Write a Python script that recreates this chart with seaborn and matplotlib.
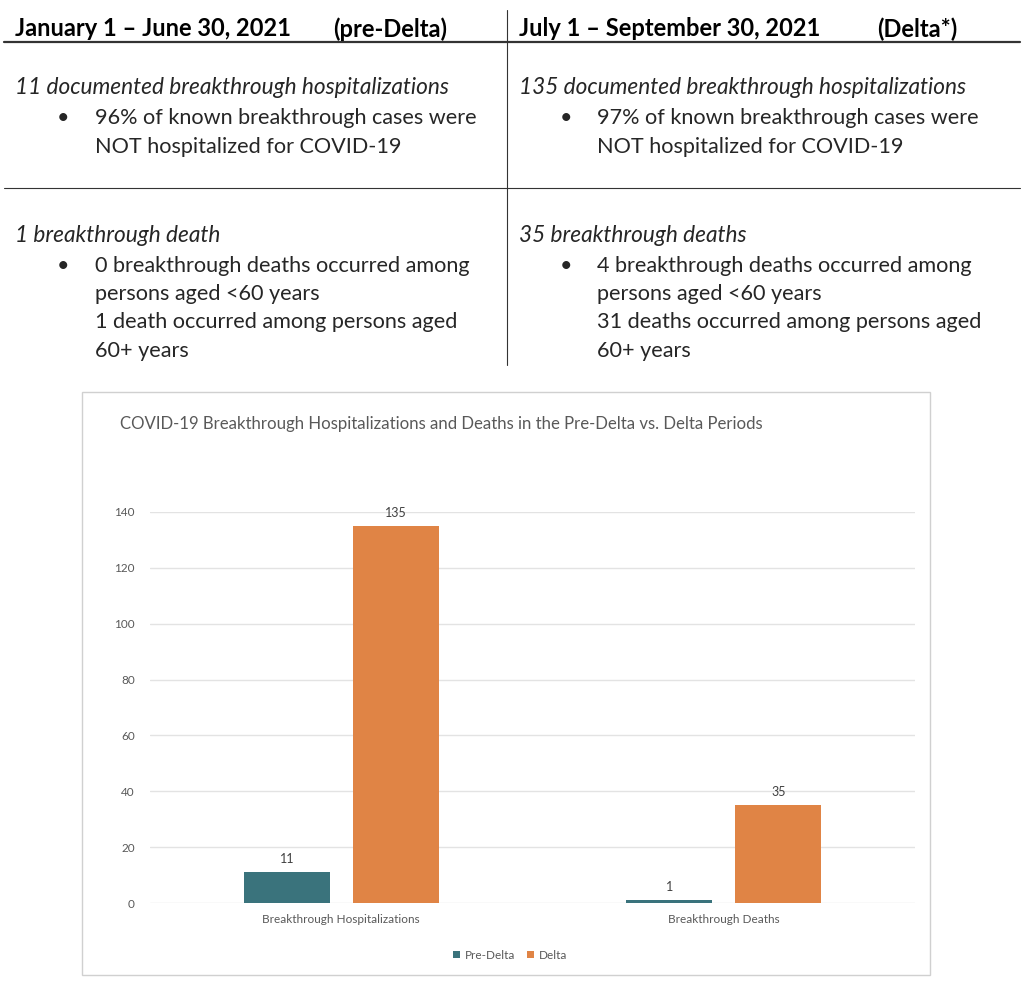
import matplotlib
matplotlib.use("Agg")
import matplotlib.pyplot as plt
import seaborn as sns
import pandas as pd
from matplotlib.lines import Line2D
from matplotlib.patches import Rectangle

sns.set_style("white")
plt.rcParams['font.family'] = ['Lato', 'DejaVu Sans']

# ---- data ----
categories = ["Breakthrough Hospitalizations", "Breakthrough Deaths"]
periods = ["Pre-Delta", "Delta"]
pre_delta_values = [11, 1]
delta_values = [135, 35]
y_ticks = [0, 20, 40, 60, 80, 100, 120, 140]

header_left = ["January 1 \u2013 June 30, 2021", "(pre-Delta)"]
header_right = ["July 1 \u2013 September 30, 2021", "(Delta*)"]
row1_left = ["11 documented breakthrough hospitalizations",
             "96% of known breakthrough cases were",
             "NOT hospitalized for COVID-19"]
row1_right = ["135 documented breakthrough hospitalizations",
              "97% of known breakthrough cases were",
              "NOT hospitalized for COVID-19"]
row2_left = ["1 breakthrough death",
             "0 breakthrough deaths occurred among",
             "persons aged <60 years",
             "1 death occurred among persons aged",
             "60+ years"]
row2_right = ["35 breakthrough deaths",
              "4 breakthrough deaths occurred among",
              "persons aged <60 years",
              "31 deaths occurred among persons aged",
              "60+ years"]
chart_title = "COVID-19 Breakthrough Hospitalizations and Deaths in the Pre-Delta vs. Delta Periods"

colors = {"Pre-Delta": "#3a737c", "Delta": "#e08445"}

W, H = 1024, 988
fig = plt.figure(figsize=(W / 100, H / 100), dpi=100)
fig.patch.set_facecolor("white")


def fx(x):
    return x / W


def fy(y):
    return 1 - y / H


# ---- table ----
fig.add_artist(Line2D([fx(4), fx(1020)], [fy(42), fy(42)], color="#333333", lw=1.6))
fig.add_artist(Line2D([fx(4), fx(1020)], [fy(188), fy(188)], color="#333333", lw=0.8))
fig.add_artist(Line2D([fx(507), fx(507)], [fy(10), fy(365)], color="#333333", lw=0.8))

hdr_kw = dict(fontsize=17, fontweight="bold", color="black", va="center")
fig.text(fx(15), fy(29), header_left[0], **hdr_kw)
fig.text(fx(333), fy(29), header_left[1], **hdr_kw)
fig.text(fx(519), fy(29), header_right[0], **hdr_kw)
fig.text(fx(877), fy(29), header_right[1], **hdr_kw)

body_fs = 15.6
ital_fs = 16.3


def block(x0, xb, xt, lines, ys):
    fig.text(fx(x0), fy(ys[0]), lines[0], fontsize=ital_fs, style="italic", va="center")
    fig.text(fx(xb), fy(ys[1]), "\u2022", fontsize=body_fs, va="center")
    for s, y in zip(lines[1:], ys[1:]):
        fig.text(fx(xt), fy(y), s, fontsize=body_fs, va="center")


block(15, 57, 95, row1_left, [87, 118, 147])
block(519, 560, 597, row1_right, [87, 118, 147])
block(15, 57, 95, row2_left, [235, 266, 294, 322, 351])
block(519, 560, 597, row2_right, [235, 266, 294, 322, 351])

# ---- chart frame ----
fig.add_artist(Rectangle((fx(82), fy(975)), fx(930) - fx(82), fy(392) - fy(975),
                         transform=fig.transFigure, fill=False, edgecolor="#d0d0d0", lw=1.0))
fig.text(fx(120), fy(424), chart_title, fontsize=12.1, color="#595959", va="center")

# ---- bar chart ----
df = pd.DataFrame({
    "category": categories * 2,
    "period": [periods[0]] * 2 + [periods[1]] * 2,
    "value": pre_delta_values + delta_values,
})

ax = fig.add_axes([fx(150), fy(903), fx(915) - fx(150), fy(512) - fy(903)])
sns.barplot(data=df, x="category", y="value", hue="period", order=categories,
            hue_order=periods, palette=colors, width=0.57, gap=0.21,
            saturation=1, ax=ax, legend=True, edgecolor="none")
ax.set_ylim(0, 140)
ax.set_xlim(-0.5, 1.5)
ax.set_yticks(y_ticks)
ax.set_yticklabels([str(v) for v in y_ticks])
ax.yaxis.grid(True, color="#e3e3e3", lw=1)
ax.set_axisbelow(True)
for s in ax.spines.values():
    s.set_visible(False)
ax.set_xlabel("")
ax.set_ylabel("")
ax.tick_params(axis="y", length=0, labelsize=8.5, labelcolor="#595959", pad=11)
ax.tick_params(axis="x", length=0, labelsize=8.5, labelcolor="#595959", pad=8)

for cont in ax.containers:
    ax.bar_label(cont, fmt="%d", padding=5, fontsize=9, color="#404040", clip_on=False)

handles, labels = ax.get_legend_handles_labels()
ax.get_legend().remove()
fig.legend(handles, labels, loc="center", bbox_to_anchor=(fx(510), fy(955)),
           ncol=2, frameon=False, fontsize=8.5, labelcolor="#595959",
           handlelength=0.6, handleheight=0.6, handletextpad=0.4, columnspacing=1.0)

fig.savefig("out.png", dpi=100, facecolor="white")
